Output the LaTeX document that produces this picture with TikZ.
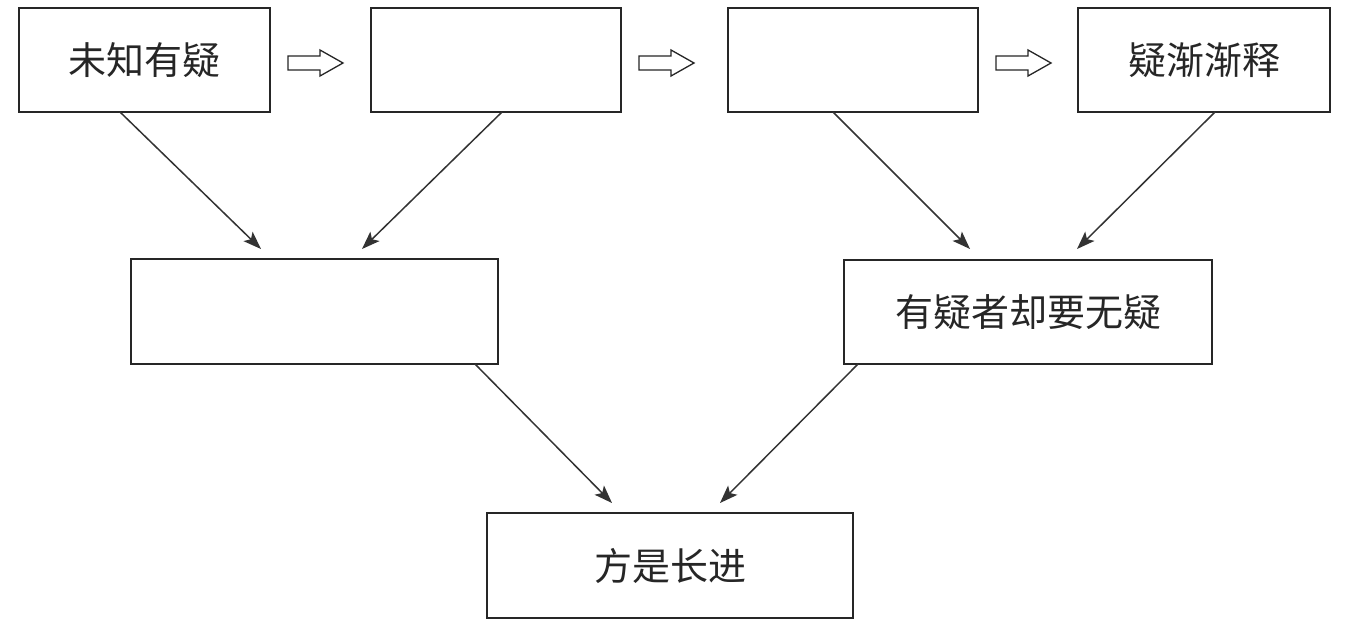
\documentclass[tikz,border=0pt]{standalone}
\usepackage{fontspec}
\newfontfamily\cjk{Noto Sans CJK SC}[Scale=1]
\usetikzlibrary{arrows.meta}
\begin{document}
\begin{tikzpicture}[x=1pt,y=-1pt,
  box/.style={draw=black!85,line width=1.4pt,inner sep=0pt,font=\cjk\fontsize{38}{42}\selectfont\color{black!85}},
  conn/.style={draw=black!80,line width=1.5pt,-{Stealth[length=18pt,width=13pt,inset=4pt]}},
  harrow/.style={draw=black!85,line width=1.3pt,line join=miter}]
\useasboundingbox[fill=white] (0,0) rectangle (1357,626);
\newcommand{\mybox}[6]{\node[box,minimum width=#4-#2,minimum height=#5-#3] (#1) at ({(#2+#4)/2},{(#3+#5)/2}) {#6};}
\newcommand{\hollowarrow}[1]{\draw[harrow] (#1) ++(-27.5,-7) -- ++(32,0) -- ++(0,-6) -- ++(23,13) -- ++(-23,13) -- ++(0,-6) -- ++(-32,0) -- cycle;}
\mybox{A}{19}{8}{270}{112}{未知有疑}
\mybox{B}{371}{8}{621}{112}{}
\mybox{C}{728}{8}{978}{112}{}
\mybox{D}{1078}{8}{1330}{112}{疑渐渐释}
\mybox{E}{131}{259}{498}{364}{}
\mybox{F}{844}{260}{1212}{364}{有疑者却要无疑}
\mybox{G}{487}{513}{853}{618}{方是长进}
\coordinate (h1) at (315.5,63);
\coordinate (h2) at (666.5,63);
\coordinate (h3) at (1023.5,63);
\hollowarrow{h1}
\hollowarrow{h2}
\hollowarrow{h3}
\coordinate (a1) at (120,112);
\coordinate (b1) at (502,112);
\coordinate (c1) at (833,112);
\coordinate (d1) at (1215,112);
\coordinate (e1) at (475,364);
\coordinate (f1) at (858,364);
\coordinate (e2) at (261,249);
\coordinate (e3) at (362,249);
\coordinate (f2) at (970,249);
\coordinate (f3) at (1077,249);
\coordinate (g2) at (612,503);
\coordinate (g3) at (720,503);
\draw[conn] (a1) -- (e2);
\draw[conn] (b1) -- (e3);
\draw[conn] (c1) -- (f2);
\draw[conn] (d1) -- (f3);
\draw[conn] (e1) -- (g2);
\draw[conn] (f1) -- (g3);
\end{tikzpicture}
\end{document}
